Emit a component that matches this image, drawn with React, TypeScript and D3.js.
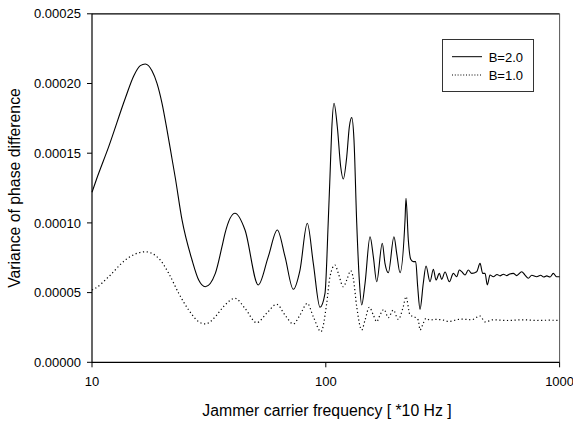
import React from "react";
import * as d3 from "d3";

// Tick labels
const yTicks = [0, 0.00005, 0.0001, 0.00015, 0.0002, 0.00025];
const xTicks = [10, 100, 1000];
const seriesNames = ["B=2.0", "B=1.0"];

// B=2.0 (solid): [frequency (*10 Hz), variance]
const b2Points: [number, number][] = [
  [10, 1.22e-4], [10.5, 1.322e-4], [11.79, 1.547e-4], [13.88, 1.894e-4],
  [15.08, 2.054e-4], [16.09, 2.128e-4], [16.9, 2.14e-4], [18.05, 2.092e-4], [18.97, 2.001e-4],
  [19.93, 1.858e-4], [20.94, 1.666e-4], [21.99, 1.46e-4], [22.72, 1.322e-4], [24.27, 1.021e-4],
  [26.78, 7.34e-5], [28.6, 5.9e-5], [30.52, 5.42e-5], [33.69, 6.38e-5], [35.97, 8.29e-5],
  [37.06, 9.25e-5], [40.89, 1.069e-4], [45.13, 9.49e-5], [51.44, 5.55e-5], [56.76, 7.58e-5],
  [62.03, 9.49e-5], [66.92, 7.58e-5], [72.61, 5.24e-5], [77.56, 6.62e-5], [83.33, 9.97e-5],
  [88.43, 7.1e-5], [94.45, 3.95e-5], [99.21, 4.95e-5], [102.5, 1.021e-4], [104.2, 1.331e-4],
  [106.0, 1.666e-4], [108.4, 1.858e-4], [112.0, 1.69e-4], [115.8, 1.403e-4], [118.8, 1.315e-4],
  [122.9, 1.475e-4], [126.1, 1.69e-4], [129.1, 1.755e-4], [132.0, 1.595e-4], [135.6, 9.99e-5],
  [139.1, 5.9e-5], [142.4, 4.11e-5], [147.2, 5.67e-5], [154.6, 9.01e-5], [159.7, 7.58e-5],
  [165.1, 5.78e-5], [174.4, 8.54e-5], [179.1, 7.1e-5], [185.1, 6.43e-5], [195.7, 9.01e-5],
  [201.0, 7.82e-5], [207.7, 6.43e-5], [218.2, 1.021e-4], [220.3, 1.176e-4], [225.4, 8.77e-5],
  [230.8, 7.39e-5], [236.8, 7.22e-5], [242.4, 7.22e-5], [247.2, 5.42e-5], [252.9, 3.8e-5],
  [261.2, 5.67e-5], [268.3, 6.91e-5], [279.1, 5.78e-5], [288.4, 6.67e-5], [296.1, 5.9e-5],
  [305.9, 6.38e-5], [313.2, 5.95e-5], [323.6, 6.48e-5], [337.6, 5.78e-5], [351.1, 6.38e-5],
  [363.0, 6.14e-5], [372.4, 6.62e-5], [381.3, 6.5e-5], [394.0, 6.26e-5], [407.0, 6.62e-5],
  [420.8, 6.38e-5], [442.1, 6.5e-5], [456.7, 7.1e-5], [469.0, 6.38e-5], [479.8, 6.38e-5],
  [490.8, 5.55e-5], [504.0, 6.26e-5], [520.6, 6.14e-5], [540, 6.3e-5], [556.0, 6.2e-5],
  [575, 6.32e-5], [593.9, 6.22e-5], [612, 6.34e-5], [633.8, 6.38e-5], [655, 6.22e-5],
  [688.5, 6.5e-5], [711.3, 6.26e-5], [734.8, 6.03e-5], [760, 6.24e-5], [798, 6.14e-5],
  [830, 6.24e-5], [855, 6.12e-5], [880.9, 6.2e-5], [910, 6.12e-5], [939.8, 6.38e-5],
  [970, 6.14e-5], [1000, 6.14e-5],
];

// B=1.0 (dotted)
const b1Points: [number, number][] = [
  [10, 5.19e-5], [10.33, 5.31e-5], [11.79, 6.14e-5], [13.88, 7.34e-5], [15.32, 7.77e-5],
  [16.9, 7.93e-5], [19.29, 7.46e-5], [21.29, 6.38e-5], [23.49, 4.95e-5], [25.92, 3.75e-5],
  [28.6, 2.91e-5], [30.52, 2.75e-5], [33.69, 3.27e-5], [35.97, 3.87e-5], [37.06, 4.11e-5],
  [40.89, 4.59e-5], [45.13, 3.87e-5], [50.63, 2.84e-5], [55.87, 3.52e-5], [61.66, 4.16e-5],
  [66.92, 3.39e-5], [72.61, 2.75e-5], [77.56, 3.39e-5], [83.33, 4.23e-5], [88.43, 3.27e-5],
  [95.39, 2.2e-5], [100.89, 4.23e-5], [104.2, 6.14e-5], [109.5, 6.98e-5], [113.1, 6.38e-5],
  [118.8, 5.42e-5], [122.9, 5.9e-5], [127.8, 6.57e-5], [131.1, 6.03e-5], [135.6, 3.99e-5],
  [142.4, 2.32e-5], [147.2, 3.03e-5], [153.5, 3.95e-5], [159.7, 3.39e-5], [165.1, 2.91e-5],
  [170.5, 3.39e-5], [177.4, 3.8e-5], [185.1, 3.2e-5], [194.4, 3.75e-5], [204.2, 3.08e-5],
  [214.5, 3.99e-5], [220.3, 4.71e-5], [229.2, 3.39e-5], [238.4, 3.27e-5], [248.7, 3.03e-5],
  [252.9, 2.32e-5], [261.2, 2.8e-5], [268.3, 3.16e-5], [279.1, 3.03e-5], [293.1, 3.08e-5],
  [318.2, 3.03e-5], [334, 2.93e-5], [380, 3.1e-5], [420, 3.05e-5], [456.7, 3.32e-5],
  [480, 2.9e-5], [520, 3.05e-5], [600, 3.0e-5], [700, 3.05e-5], [800, 3.0e-5],
  [900, 3.02e-5], [1000, 3.0e-5],
];

const L = 92, R = 559.6, T = 13.8, B = 362.3;
const FONT = "'Liberation Sans', Arial, sans-serif";

export default function App() {
  const x = d3.scaleLog().domain([10, 1000]).range([L, R]);
  const y = d3.scaleLinear().domain([0, 0.00025]).range([B, T]);
  const line = d3
    .line<[number, number]>()
    .x((d) => x(d[0]))
    .y((d) => y(d[1]))
    .curve(d3.curveMonotoneX);
  const fmt = d3.format(".5f");

  return (
    <svg
      width={573}
      height={422}
      style={{ position: "absolute", left: 0, top: 0, background: "#fff" }}
      fontFamily={FONT}
    >
      <rect x={0} y={0} width={573} height={422} fill="#fff" />
      {/* frame */}
      <line x1={L} x2={R} y1={T} y2={T} stroke="#000" strokeWidth={1.2} />
      <line x1={R} x2={R} y1={T} y2={B} stroke="#555" strokeWidth={1} />
      <line x1={L} x2={L} y1={T} y2={B + 0.5} stroke="#000" strokeWidth={1.2} />
      <line x1={L} x2={R} y1={B} y2={B} stroke="#000" strokeWidth={1.2} />
      {/* y ticks */}
      {yTicks.map((t) => (
        <g key={t}>
          <line x1={L - 5} x2={L} y1={y(t)} y2={y(t)} stroke="#000" strokeWidth={1} />
          <text x={L - 11} y={y(t)} dy="0.36em" textAnchor="end" fontSize={13} fill="#000">
            {fmt(t)}
          </text>
        </g>
      ))}
      {/* x ticks */}
      {xTicks.map((t) => (
        <g key={t}>
          <line x1={x(t)} x2={x(t)} y1={B} y2={B + 5} stroke="#000" strokeWidth={1} />
          <text x={x(t)} y={B + 24} textAnchor="middle" fontSize={13} fill="#000">
            {t}
          </text>
        </g>
      ))}
      {/* series */}
      <path d={line(b2Points) || ""} fill="none" stroke="#000" strokeWidth={1.1} />
      <path
        d={line(b1Points) || ""}
        fill="none"
        stroke="#000"
        strokeWidth={1.2}
        strokeDasharray="1.2,2.6"
      />
      {/* axis titles */}
      <text x={327} y={416} textAnchor="middle" fontSize={15.8} fill="#000">
        Jammer carrier frequency [ *10 Hz ]
      </text>
      <text
        transform={`translate(20,188) rotate(-90)`}
        textAnchor="middle"
        fontSize={15.8}
        fill="#000"
      >
        Variance of phase difference
      </text>
      {/* legend */}
      <rect x={442.5} y={39.5} width={91} height={52} fill="#fff" stroke="#333" strokeWidth={1} />
      <line x1={452} x2={482} y1={56.7} y2={56.7} stroke="#000" strokeWidth={1} />
      <line x1={452} x2={482} y1={75} y2={75} stroke="#000" strokeWidth={1.1} strokeDasharray="1,1.8" />
      <text x={488.7} y={57} dy="0.36em" fontSize={13} fill="#000">{seriesNames[0]}</text>
      <text x={488.7} y={75.3} dy="0.36em" fontSize={13} fill="#000">{seriesNames[1]}</text>
    </svg>
  );
}
